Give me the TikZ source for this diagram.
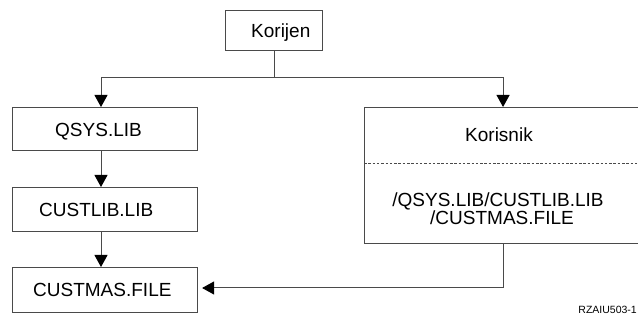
\documentclass[tikz,border=0pt]{standalone}
\usepackage{fontspec}
\setmainfont{Liberation Sans}
\usetikzlibrary{arrows.meta,calc}
\definecolor{linegray}{HTML}{4A4A4A}
\begin{document}
\begin{tikzpicture}[x=1pt,y=-1pt,
  box/.style={draw=linegray, line width=1.1pt, anchor=north west, inner sep=0pt},
  lbl/.style={anchor=base west, inner sep=0pt, font=\fontsize{19}{17.5}\selectfont},
  clbl/.style={lbl, anchor=base},
  conn/.style={draw=linegray, line width=1pt, -{Triangle[length=12pt,width=13pt,fill=black,color=black]}},
  plain/.style={draw=linegray, line width=1pt}]
\useasboundingbox (0,0) rectangle (638,323);
\clip (0,0) rectangle (638,323);

% boxes
\node[box, minimum width=97pt, minimum height=40pt] (root) at (225,10) {};
\node[box, minimum width=185pt, minimum height=43pt] (qsys) at (12,107) {};
\node[box, minimum width=185pt, minimum height=44pt] (custlib) at (12,187) {};
\node[box, minimum width=185pt, minimum height=45pt] (custmas) at (12,267) {};
\node[box, minimum width=277pt, minimum height=136pt] (user) at (364,107) {};
\draw[linegray, line width=0.8pt, dash pattern=on 2.5pt off 1.8pt]
  (user.west |- 0,163) coordinate (dl) -- (dl -| user.east);

% texts
\node[lbl] (troot) at (251,38) {Korijen};
\node[lbl] (tqsys) at (55,137) {QSYS.LIB};
\node[lbl] (tcustlib) at (39,217) {CUSTLIB.LIB};
\node[lbl] (tcustmas) at (33,297) {CUSTMAS.FILE};
\node[lbl] (tuser) at (465,142) {Korisnik};
\node[clbl] (tpath1) at (498,207) {/QSYS.LIB/CUSTLIB.LIB};
\node[clbl] (tpath2) at (502,225) {/CUSTMAS.FILE};
\node[anchor=base east, inner sep=0pt, font=\fontsize{10.5}{12}\selectfont] (fig) at (637,314) {RZAIU503-1};

% connectors
\coordinate (split) at (root.south |- 0,78);
\coordinate (lx) at (101,0);
\coordinate (turn) at (user.south |- 0,288);
\draw[plain] (root.south) -- (split);
\draw[conn] (split) -| (qsys.north -| lx);
\draw[conn] (split) -| (user.north);
\draw[conn] (qsys.south -| lx) -- (custlib.north -| lx);
\draw[conn] (custlib.south -| lx) -- (custmas.north -| lx);
\draw[conn, shorten >=4pt] (user.south) -- (turn) -- (turn -| custmas.east);
\end{tikzpicture}
\end{document}
